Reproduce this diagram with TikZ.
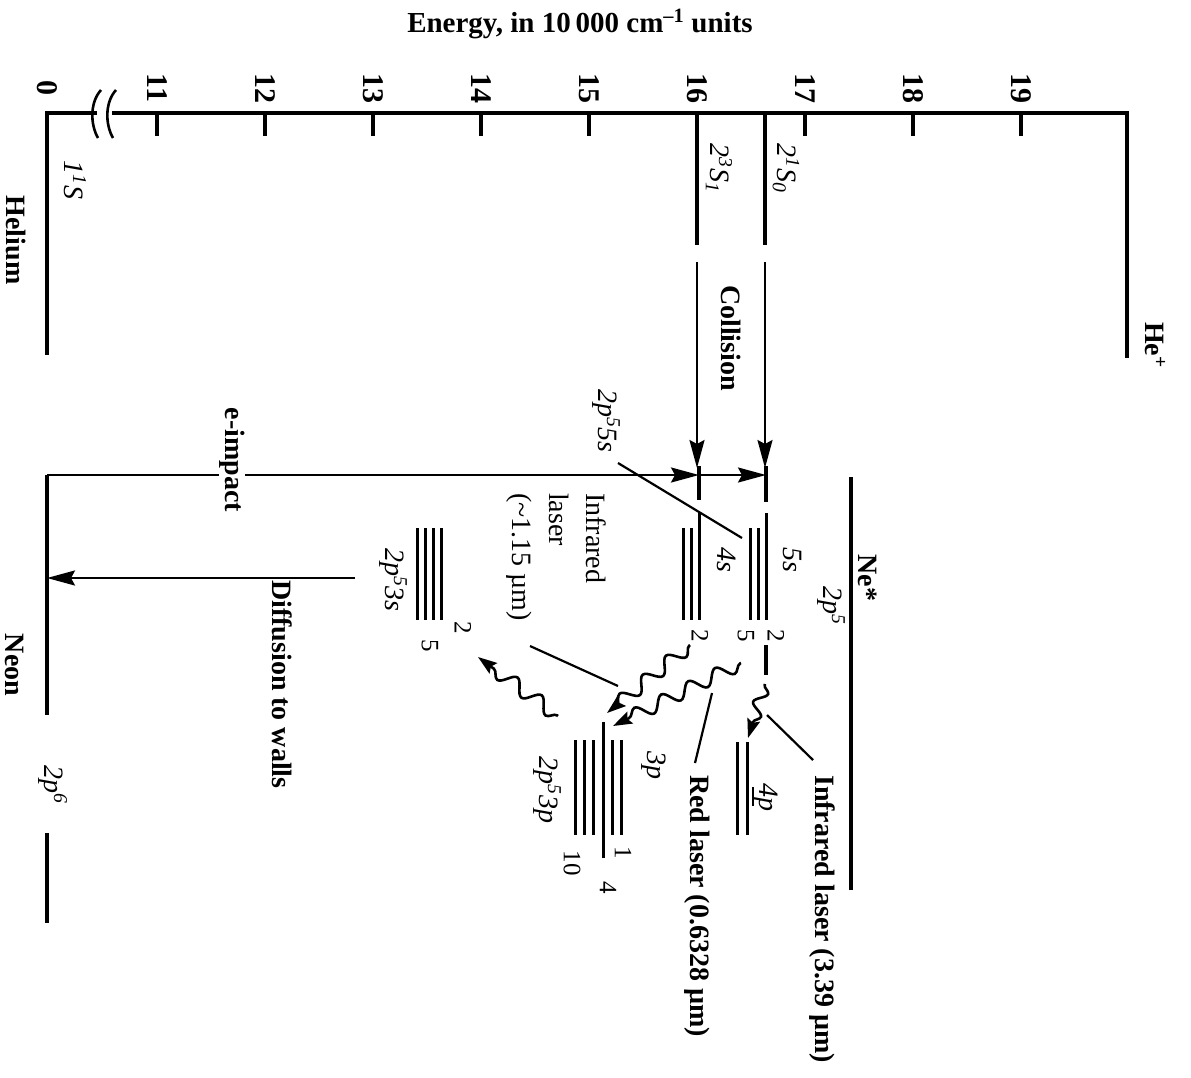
\documentclass[tikz,border=0pt]{standalone}
\usepackage{fontspec}
\setmainfont{Liberation Serif}
\usetikzlibrary{arrows.meta,decorations.pathmorphing}
\begin{document}
\begin{tikzpicture}[x=1pt,y=-1pt,
  level/.style={line width=3.6pt},
  glevel/.style={line width=3pt},
  ptr/.style={line width=2.2pt},
  arr/.style={line width=2.4pt,-{Stealth[length=28pt,width=15pt,inset=4pt]}},
  wavy/.style={line width=2.6pt,decorate,decoration={snake,amplitude=7pt,segment length=30pt,pre length=1pt,post length=12pt},-{Stealth[length=19pt,width=13pt,inset=3pt]}},
  lbl/.style={rotate=-90,inner sep=0pt,font=\fontsize{28}{32}\selectfont\bfseries},
  ital/.style={rotate=-90,inner sep=0pt,font=\fontsize{28}{32}\selectfont\itshape},
  reg/.style={rotate=-90,inner sep=0pt,font=\fontsize{28}{37}\selectfont},
  dig/.style={rotate=-90,inner sep=0pt,font=\fontsize{25}{28}\selectfont},
  ticklbl/.style={rotate=-90,inner sep=0pt,font=\fontsize{30}{32}\selectfont\bfseries},
]
\useasboundingbox (0,0) rectangle (1191,1077);

% title
\node[inner sep=0pt,font=\fontsize{29}{32}\selectfont\bfseries] (title) at (580,24) {Energy, in 10\,000 cm\textsuperscript{\textendash 1} units};

% axis
\coordinate (axL) at (47,113);
\coordinate (axR) at (1127,113);
\coordinate (heG) at (47,355);
\coordinate (hePlus) at (1127,358);
\coordinate (brk1) at (97,113);
\coordinate (brk2) at (112,113);
\draw[level] (brk1) -- (axL) -- (heG);
\draw[level] (brk2) -- (axR) -- (hePlus);
\draw[line width=2.6pt] (101,90) .. controls (90,102) and (90,124) .. (98,138);
\draw[line width=2.6pt] (116,90) .. controls (105,102) and (105,124) .. (113,138);
\node[ticklbl] (t0) at (47,88) {0};
\foreach \v/\x in {11/157,12/265,13/373,14/481,15/589,16/697,17/805,18/913,19/1021}{
  \node[ticklbl] (t\v) at (\x,88) {\v};
  \draw[level] (\x,113) -- (\x,136);
}

% helium levels
\coordinate (hA1) at (697,113); \coordinate (hA2) at (697,245);
\coordinate (hB1) at (765,113); \coordinate (hB2) at (765,245);
\draw[level] (hA1) -- (hA2);
\draw[level] (hB1) -- (hB2);
\node[ital] (l11S) at (75,180) {1\textsuperscript{1}S};
\node[ital] (l23S) at (719,168) {2\textsuperscript{3}S\textsubscript{1}};
\node[ital] (l21S) at (786,168) {2\textsuperscript{1}S\textsubscript{0}};
\node[lbl] (helium) at (16,240) {Helium};
\node[lbl] (heplus) at (1155,345) {He\textsuperscript{+}};

% collision
\coordinate (cA) at (697,262); \coordinate (cAe) at (697,468);
\coordinate (cB) at (765,262); \coordinate (cBe) at (765,468);
\draw[arr] (cA) -- (cAe);
\draw[arr] (cB) -- (cBe);
\node[lbl] (coll) at (731,338) {Collision};

% neon ground
\coordinate (neT) at (47,475); \coordinate (neB) at (47,715);
\coordinate (ne6a) at (47,833); \coordinate (ne6b) at (47,923);
\draw[level] (neT) -- (neB);
\draw[level] (ne6a) -- (ne6b);
\node[lbl] (neon) at (15,665) {Neon};
\node[ital] (l2p6) at (53,785) {2p\textsuperscript{6}};

% 2p55s short levels
\coordinate (s55a1) at (699,466); \coordinate (s55a2) at (699,500);
\coordinate (s55b1) at (766,466); \coordinate (s55b2) at (766,502);
\draw[level] (s55a1) -- (s55a2);
\draw[level] (s55b1) -- (s55b2);
\coordinate (s55a) at (699,475); \coordinate (s55b) at (766,475);

% e-impact
\draw[arr] (neT) -- (s55a);
\draw[arr] (s55a) -- (s55b);
\node[lbl,fill=white,inner xsep=3pt] (eimp) at (232,460) {e-impact};

% diffusion
\coordinate (dif) at (355,578); \coordinate (difE) at (47,578);
\draw[arr] (dif) -- (difE);
\node[lbl,anchor=west] (diflbl) at (282,580) {Diffusion to walls};

% 4s group
\draw[glevel] (699,513) -- (699,620);
\draw[glevel] (683,528) -- (683,620);
\draw[glevel] (691,528) -- (691,620);
% 5s group
\draw[glevel] (766,513) -- (766,620);
\draw[glevel] (750,528) -- (750,620);
\draw[glevel] (758,528) -- (758,620);
\node[dig] (g4s2) at (700,636) {2};
\node[dig] (g5s5) at (746,636) {5};
\node[dig] (g5s2) at (776,636) {2};
\node[ital] (l4s) at (727,560) {4s};
\node[ital] (l5s) at (793,560) {5s};
\node[ital] (l2p5) at (831,606) {2p\textsuperscript{5}};
\node[lbl] (nestar) at (868,578) {Ne*};
\coordinate (neS1) at (851,477); \coordinate (neS2) at (851,890);
\draw[level] (neS1) -- (neS2);

% 2p55s label
\node[ital] (l2p55s) at (606,421) {2p\textsuperscript{5}5s};
\coordinate (p55a) at (618,463); \coordinate (p55b) at (742,538);
\draw[ptr] (p55a) -- (p55b);

% short level below 5s
\coordinate (sl1) at (766,645); \coordinate (sl2) at (766,675);
\draw[level] (sl1) -- (sl2);

% 4p group
\draw[glevel] (737,742) -- (737,835);
\draw[glevel] (747,742) -- (747,835);
\draw[line width=2pt] (753,787) -- (753,806);
\node[ital] (l4p) at (766,797) {4p};

% 3p group
\coordinate (p3top) at (603,722);
\draw[glevel] (p3top) -- (603,858);
\foreach \x in {575,584,593,612,621}{\draw[glevel] (\x,740) -- (\x,835);}
\node[ital] (l3p) at (654,765) {3p};
\node[ital] (l2p53p) at (547,790) {2p\textsuperscript{5}3p};
\node[dig] (g3p1) at (623,853) {1};
\node[dig] (g3p4) at (608,888) {4};
\node[dig] (g3p10) at (572,863) {10};

% 3s group
\foreach \x in {417,425,433,441}{\draw[glevel] (\x,528) -- (\x,620);}
\node[dig] (g3s2) at (463,628) {2};
\node[dig] (g3s5) at (430,646) {5};
\node[ital] (l2p53s) at (393,580) {2p\textsuperscript{5}3s};

% wavy transitions
\coordinate (w1s) at (690,645); \coordinate (w1e) at (607,713);
\coordinate (w2s) at (741,663); \coordinate (w2e) at (613,726);
\coordinate (w3s) at (558,716); \coordinate (w3e) at (478,657);
\coordinate (w4s) at (765,684); \coordinate (w4e) at (748,738);
\draw[wavy] (w1s) -- (w1e);
\draw[wavy] (w2s) -- (w2e);
\draw[wavy] (w3s) -- (w3e);
\draw[wavy,decoration={snake,amplitude=6pt,segment length=24pt,pre length=1pt,post length=9pt}] (w4s) -- (w4e);

% laser labels
\node[reg,align=left,anchor=north west] (ir115) at (606,493) {Infrared\\laser\\(\textasciitilde 1.15 µm)};
\coordinate (p115a) at (530,646); \coordinate (p115b) at (618,686);
\draw[ptr] (p115a) -- (p115b);

\node[lbl,anchor=west] (redlbl) at (697,775) {Red laser (0.6328 µm)};
\coordinate (pra) at (712,693); \coordinate (prb) at (695,763);
\draw[ptr] (pra) -- (prb);

\node[lbl,anchor=west] (ir339) at (822,775) {Infrared laser (3.39 µm)};
\coordinate (pia) at (767,715); \coordinate (pib) at (813,760);
\draw[ptr] (pia) -- (pib);
\end{tikzpicture}
\end{document}
